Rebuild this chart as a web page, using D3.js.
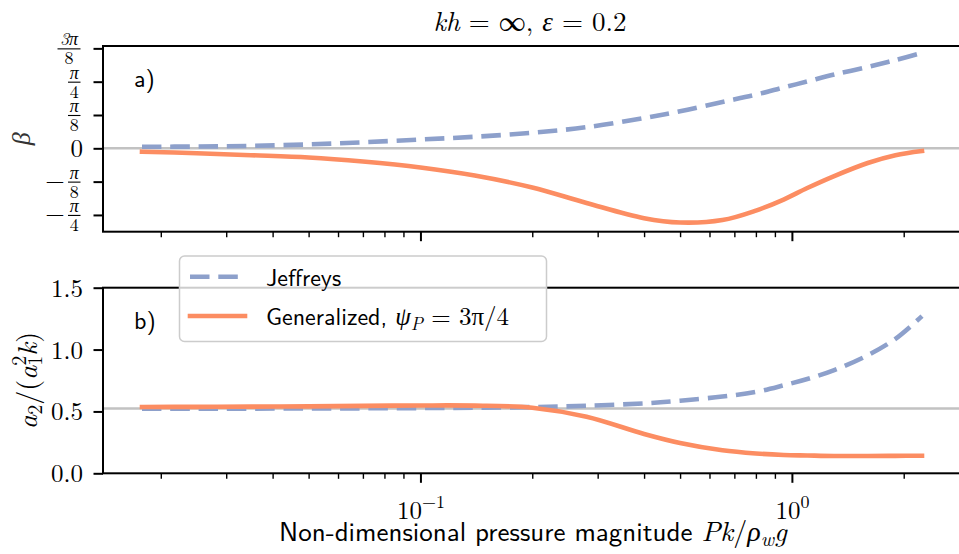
<!DOCTYPE html>
<html>
<head>
<meta charset="utf-8">
<script src="https://cdn.jsdelivr.net/npm/d3@7"></script>
<style>
  html, body { margin: 0; padding: 0; background: #fff; }
  svg { display: block; }
</style>
</head>
<body>
<svg id="fig" width="959" height="554"></svg>
<script>
// Non-dimensional pressure magnitude Pk/(rho_w g)
const pressure = [0.0178, 0.025, 0.035, 0.05, 0.07, 0.1, 0.14, 0.2, 0.28, 0.4,
                  0.5, 0.65, 0.8, 0.95, 1.1, 1.3, 1.6, 1.9, 2.24];

// Panel a): phase shift beta (radians)
const betaJeffreys    = [0.018, 0.021, 0.029, 0.046, 0.071, 0.104, 0.136, 0.183, 0.249, 0.357,
                         0.436, 0.546, 0.632, 0.717, 0.788, 0.870, 0.959, 1.041, 1.124];
const betaGeneralized = [-0.040, -0.058, -0.081, -0.108, -0.156, -0.226, -0.321, -0.462, -0.645, -0.824,
                         -0.875, -0.846, -0.734, -0.604, -0.468, -0.327, -0.173, -0.081, -0.032];

// Panel b): second-harmonic amplitude a2/(a1^2 k)
const ratioJeffreys    = [0.522, 0.522, 0.523, 0.524, 0.525, 0.527, 0.530, 0.535, 0.546, 0.565,
                          0.587, 0.620, 0.658, 0.711, 0.762, 0.834, 0.954, 1.087, 1.270];
const ratioGeneralized = [0.536, 0.537, 0.539, 0.541, 0.545, 0.548, 0.547, 0.530, 0.457, 0.318,
                          0.245, 0.186, 0.160, 0.148, 0.144, 0.140, 0.140, 0.141, 0.142];

// Reference levels (horizontal grey lines)
const betaReference = 0;
const ratioReference = 0.524;

// Tick values and labels
const xMajorTicks = [0.1, 1];
const xMajorExponents = ["\u22121", "0"];
const betaTicks = [-Math.PI / 4, -Math.PI / 8, 0, Math.PI / 8, Math.PI / 4, 3 * Math.PI / 8];
const betaTickLabels = [
  { sign: "\u2212", num: "\u03c0", den: "4" },
  { sign: "\u2212", num: "\u03c0", den: "8" },
  { plain: "0" },
  { sign: "", num: "\u03c0", den: "8" },
  { sign: "", num: "\u03c0", den: "4" },
  { sign: "", num: "3\u03c0", den: "8" }
];
const ratioTicks = [0.0, 0.5, 1.0, 1.5];
const ratioTickLabels = ["0.0", "0.5", "1.0", "1.5"];

const seriesNames = ["Jeffreys", "Generalized"];
const colors = { Jeffreys: "#8da0cb", Generalized: "#fc8d62" };

const SERIF = '"Latin Modern Roman", "Liberation Serif", serif';
const SANS = '"Latin Modern Sans", "CMU Sans Serif", "Noto Sans", sans-serif';

// ---------------------------------------------------------------------------
const svg = d3.select("#fig");
const left = 103, right = 961;
const lx0 = Math.log10(pressure[0]), lx1 = Math.log10(pressure[pressure.length - 1]);
const padX = 0.05 * (lx1 - lx0);
const x = d3.scaleLog()
  .domain([Math.pow(10, lx0 - padX), Math.pow(10, lx1 + padX)])
  .range([left, right]);

const panels = [
  { key: "a", top: 46, bottom: 231.7, domain: [-0.983, 1.206],
    series: [betaJeffreys, betaGeneralized], reference: betaReference },
  { key: "b", top: 287.7, bottom: 473.3, domain: [0, 1.5],
    series: [ratioJeffreys, ratioGeneralized], reference: ratioReference }
];
panels.forEach(p => {
  p.y = d3.scaleLinear().domain(p.domain).range([p.bottom, p.top]);
});

const minorTicks = x.ticks().filter(v => !xMajorTicks.some(m => Math.abs(m - v) < 1e-9));

function serifText(sel) {
  return sel.append("text").style("font-family", SERIF).attr("fill", "#000");
}

panels.forEach((p, pi) => {
  const g = svg.append("g");
  const clipId = "clip-" + p.key;
  svg.append("clipPath").attr("id", clipId)
    .append("rect").attr("x", left).attr("y", p.top)
    .attr("width", right - left).attr("height", p.bottom - p.top);

  // grey reference line
  g.append("line")
    .attr("x1", left).attr("x2", right)
    .attr("y1", p.y(p.reference)).attr("y2", p.y(p.reference))
    .attr("stroke", "#c2c2c2").attr("stroke-width", 2.6);

  // curves
  const plot = g.append("g").attr("clip-path", `url(#${clipId})`);
  p.series.forEach((vals, si) => {
    const name = seriesNames[si];
    const line = d3.line()
      .x((d, i) => x(pressure[i]))
      .y(d => p.y(d))
      .curve(d3.curveCatmullRom.alpha(0.5));
    const path = plot.append("path")
      .datum(vals)
      .attr("d", line)
      .attr("fill", "none")
      .attr("stroke", colors[name])
      .attr("stroke-width", 4.6);
    if (name === "Jeffreys") {
      path.attr("stroke-dasharray", "19.5,8.8").attr("stroke-linecap", "butt");
    } else {
      path.attr("stroke-linecap", "square");
    }
  });

  // x axis ticks (minor + major) along the bottom spine
  g.append("g")
    .attr("transform", `translate(0,${p.bottom})`)
    .call(d3.axisBottom(x).tickValues(minorTicks).tickSize(5.5).tickFormat(""))
    .call(a => a.select(".domain").remove())
    .call(a => a.selectAll(".tick line").attr("stroke", "#000").attr("stroke-width", 1.4));
  const xMaj = g.append("g")
    .attr("transform", `translate(0,${p.bottom})`)
    .call(d3.axisBottom(x).tickValues(xMajorTicks).tickSize(9.5).tickFormat(""))
    .call(a => a.select(".domain").remove())
    .call(a => a.selectAll(".tick line").attr("stroke", "#000").attr("stroke-width", 2));

  if (pi === 1) {
    xMaj.selectAll(".tick").each(function (d, i) {
      const t = serifText(d3.select(this))
        .attr("text-anchor", "middle")
        .attr("y", 45.5)
        .attr("font-size", 25);
      t.append("tspan").text("10");
      t.append("tspan").attr("font-size", 18).attr("dy", -11).text(xMajorExponents[i]);
    });
  }

  // y axis
  const yAxis = g.append("g")
    .attr("transform", `translate(${left},0)`)
    .call(d3.axisLeft(p.y)
      .tickValues(p.key === "a" ? betaTicks : ratioTicks)
      .tickSize(9.5).tickFormat(""))
    .call(a => a.select(".domain").remove())
    .call(a => a.selectAll(".tick line").attr("stroke", "#000").attr("stroke-width", 2));

  if (p.key === "a") {
    yAxis.selectAll(".tick").each(function (d, i) {
      const lab = betaTickLabels[i];
      const t = d3.select(this);
      if (lab.plain) {
        serifText(t).attr("x", -20).attr("y", 8.5).attr("text-anchor", "end")
          .attr("font-size", 25).text(lab.plain);
        return;
      }
      const fs = 18;
      const w = lab.num.length > 1 ? 23 : 12.5;
      const cx = -23 - w / 2 + 0.5;
      serifText(t).attr("x", cx).attr("y", -3.5).attr("text-anchor", "middle")
        .attr("font-size", fs).attr("font-style", "italic").text(lab.num);
      serifText(t).attr("x", cx).attr("y", 15.5).attr("text-anchor", "middle")
        .attr("font-size", fs).text(lab.den);
      t.append("line")
        .attr("x1", -23 - w + 0.5).attr("x2", -23 + 0.5)
        .attr("y1", 0).attr("y2", 0)
        .attr("stroke", "#000").attr("stroke-width", 1.1);
      if (lab.sign) {
        serifText(t).attr("x", -48).attr("y", 7).attr("text-anchor", "middle")
          .attr("font-size", 25).text(lab.sign);
      }
    });
  } else {
    yAxis.selectAll(".tick").each(function (d, i) {
      serifText(d3.select(this))
        .attr("x", -20).attr("y", 8.5).attr("text-anchor", "end")
        .attr("font-size", 25)
        .text(ratioTickLabels[i]);
    });
  }

  // spines (right spine sits just beyond the visible area)
  g.append("rect")
    .attr("x", left).attr("y", p.top)
    .attr("width", right - left).attr("height", p.bottom - p.top)
    .attr("fill", "none").attr("stroke", "#000").attr("stroke-width", 2);

  // panel tag
  g.append("text").style("font-family", SANS)
    .attr("x", 134).attr("y", p.top + 41)
    .attr("font-size", 24).attr("fill", "#000")
    .text(p.key + ")");
});

// y-axis titles
serifText(svg)
  .attr("transform", `translate(30,${(panels[0].top + panels[0].bottom) / 2}) rotate(-90)`)
  .attr("text-anchor", "middle").attr("font-size", 26).attr("font-style", "italic")
  .attr("fill", "#333")
  .text("\u03b2");

const yTitleB = serifText(svg)
  .attr("transform", `translate(37,${(panels[1].top + panels[1].bottom) / 2}) rotate(-90)`)
  .attr("text-anchor", "middle").attr("font-size", 28);
yTitleB.append("tspan").attr("font-style", "italic").text("a");
yTitleB.append("tspan").attr("font-size", 20).attr("dy", 5).text("2");
yTitleB.append("tspan").attr("dy", -5).text("/(");
yTitleB.append("tspan").attr("font-style", "italic").text("a");
yTitleB.append("tspan").attr("font-size", 20).attr("dy", 5).text("1");
yTitleB.append("tspan").attr("font-size", 20).attr("dx", -10).attr("dy", -16).text("2");
yTitleB.append("tspan").attr("font-style", "italic").attr("dy", 11).text("k");
yTitleB.append("tspan").text(")");

// title
const title = serifText(svg)
  .attr("x", 530).attr("y", 31).attr("text-anchor", "middle")
  .attr("font-size", 27);
title.append("tspan").attr("font-style", "italic").text("kh");
title.append("tspan").text(" = \u221e, ");
title.append("tspan").attr("font-style", "italic").text("\u03b5");
title.append("tspan").text(" = 0.2");

// x-axis title
const xTitle = svg.append("text")
  .attr("x", (left + right) / 2 + 1).attr("y", 541).attr("text-anchor", "middle")
  .attr("font-size", 27).attr("fill", "#000");
xTitle.append("tspan").style("font-family", SANS).text("Non-dimensional pressure magnitude ");
xTitle.append("tspan").style("font-family", SERIF).attr("font-style", "italic").attr("font-size", 28).text("Pk");
xTitle.append("tspan").style("font-family", SERIF).attr("font-size", 28).text("/");
xTitle.append("tspan").style("font-family", SERIF).attr("font-style", "italic").attr("font-size", 28).text("\u03c1");
xTitle.append("tspan").style("font-family", SERIF).attr("font-style", "italic").attr("font-size", 20).attr("dy", 5).text("w");
xTitle.append("tspan").style("font-family", SERIF).attr("font-style", "italic").attr("font-size", 28).attr("dy", -5).text("g");

// legend
const legend = svg.append("g");
legend.append("rect")
  .attr("x", 179.5).attr("y", 256).attr("width", 367).attr("height", 85.5)
  .attr("rx", 5).attr("fill", "#fff").attr("fill-opacity", 0.8)
  .attr("stroke", "#cccccc").attr("stroke-width", 1.5);
const legendRows = [
  { name: "Jeffreys", y: 276.7 },
  { name: "Generalized", y: 316 }
];
legendRows.forEach(r => {
  const ln = legend.append("line")
    .attr("x1", 190).attr("x2", 245).attr("y1", r.y).attr("y2", r.y)
    .attr("stroke", colors[r.name]).attr("stroke-width", 4.6);
  if (r.name === "Jeffreys") ln.attr("stroke-dasharray", "19.5,8.8");
  else ln.attr("stroke-linecap", "square");
});
legend.append("text").style("font-family", SANS)
  .attr("x", 266).attr("y", 286).attr("font-size", 24).attr("fill", "#000")
  .text("Jeffreys");
const gl = legend.append("text").attr("x", 266).attr("y", 325).attr("font-size", 24).attr("fill", "#000");
gl.append("tspan").style("font-family", SANS).text("Generalized, ");
gl.append("tspan").style("font-family", SERIF).attr("font-style", "italic").attr("font-size", 25).text("\u03c8");
gl.append("tspan").style("font-family", SERIF).attr("font-style", "italic").attr("font-size", 18).attr("dy", 5).text("P");
gl.append("tspan").style("font-family", SERIF).attr("font-size", 25).attr("dy", -5).text(" = 3\u03c0/4");
</script>
</body>
</html>
